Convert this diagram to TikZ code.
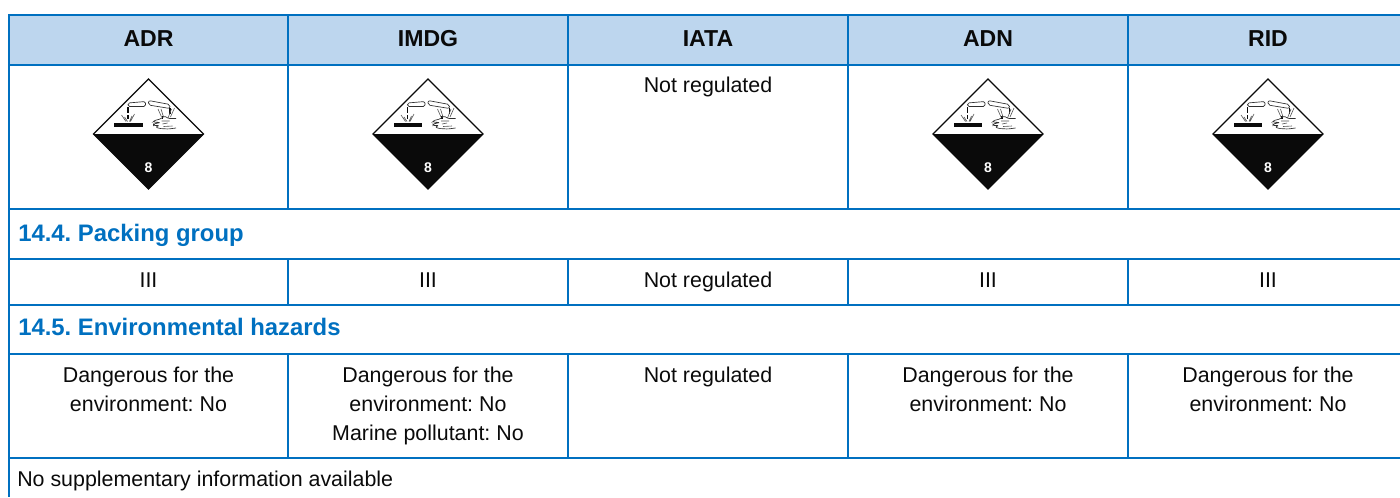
\documentclass[tikz,border=0pt]{standalone}
\usepackage{fontspec}
\setmainfont{Liberation Sans}
\definecolor{rule}{RGB}{0,112,192}
\definecolor{headfill}{RGB}{189,214,238}
\definecolor{ink}{RGB}{10,10,10}
\tikzset{
  grid/.style={draw=rule,line width=1.7pt,line cap=butt},
  headtxt/.style={anchor=base,font=\fontsize{17.3pt}{20pt}\selectfont\bfseries\frenchspacing,text=ink,inner sep=0pt},
  sectxt/.style={anchor=base west,font=\fontsize{17.9pt}{20pt}\selectfont\bfseries\frenchspacing,text=rule,inner sep=0pt},
  celltxt/.style={anchor=base,font=\fontsize{16.05pt}{20pt}\selectfont\frenchspacing,text=ink,inner sep=0pt},
  lefttxt/.style={anchor=base west,font=\fontsize{16.05pt}{20pt}\selectfont\frenchspacing,text=ink,inner sep=0pt},
  pg/.style={draw=ink!85,line width=0.5pt},
  pgthin/.style={draw=ink!70,line width=0.45pt},
}
\newcommand{\placard}[2]{%
\begin{scope}[shift={(#1,134)}]
  \fill[white] (0,-55)--(55,0)--(0,55)--(-55,0)--cycle;
  \fill[ink] (-55,0)--(55,0)--(0,55)--cycle;
  \draw[ink,line width=0.9pt,line join=miter] (0,-55)--(55,0)--(0,55)--(-55,0)--cycle;
  \node[font=\fontsize{10.5pt}{12pt}\selectfont\bfseries,text=white,inner sep=0pt] (#2) at (0,34) {8};
  % test tubes
  \draw[pg,rounded corners=1.2pt] (-20.5,-27.5)--(-20.5,-31)--(-3,-32.5)--(-3,-27.5)--cycle;
  \draw[pg,rounded corners=1.5pt] (0,-33.5)--(21.5,-29.5)--(21.5,-25.5)--(0,-29)--cycle;
  % drops
  \draw[ink,line width=0.9pt] (-20.5,-27)--(-20.5,-21) (-20.5,-19)--(-20.5,-15);
  \draw[ink,line width=0.9pt] (21.5,-26)--(21.5,-20) (14,-18)--(14,-15);
  % bar
  \fill[ink] (-34.5,-11.5)--(-6,-11.5)--(-6,-7)--(-34.5,-7)--cycle;
  % splashes left
  \draw[pgthin] (-27,-19)--(-22.5,-12.5) (-24,-17)--(-21,-12.5) (-14,-20)--(-18,-12.5) (-16.5,-18)--(-19,-12.5);
  % splashes right
  \draw[pgthin] (9.5,-25)--(13,-17) (12.5,-25)--(15,-17) (26,-26)--(22,-17) (23,-25)--(19.5,-16);
  % hand
  \draw[pg,rounded corners=1pt] (27.5,-15.5)--(20,-15.5)--(16,-18)--(12,-15)--(6,-13.5)--(4.5,-12)--(12,-11.5)--(5,-10)--(5,-8.5)--(11,-8.5)--(7,-7)--(11,-5.5)--(20,-5)--(27.5,-6);
  \draw[pgthin] (13,-13)--(21,-13) (14,-10)--(19,-11) (15,-7.5)--(24,-8);
\end{scope}}
\begin{document}
\begin{tikzpicture}[x=0.75pt,y=-0.75pt]
\useasboundingbox (0,0) rectangle (1400,497);
\fill[headfill] (9,15) rectangle (1400,65);
% horizontal rules
\foreach \yy in {15,65,209,259,305,354,458} \draw[grid] (8,\yy)--(1400,\yy);
% left edge
\draw[grid] (9,14)--(9,497);
% vertical rules
\foreach \xx in {288,568,848,1128} {
  \draw[grid] (\xx,15)--(\xx,209);
  \draw[grid] (\xx,259)--(\xx,305);
  \draw[grid] (\xx,354)--(\xx,458);
}
% header
\node[headtxt] (hadr) at (148.5,46) {ADR};
\node[headtxt] (himdg) at (428,46) {IMDG};
\node[headtxt] (hiata) at (708,46) {IATA};
\node[headtxt] (hadn) at (988,46) {ADN};
\node[headtxt] (hrid) at (1268,46) {RID};
% placards
\placard{148.5}{p1}
\placard{428}{p2}
\placard{988}{p3}
\placard{1268}{p4}
\node[celltxt] (r1c3) at (708,92) {Not regulated};
% sections
\node[sectxt] (s144) at (18,241) {14.4. Packing group};
\node[celltxt] (r2c1) at (148.5,287) {III};
\node[celltxt] (r2c2) at (428,287) {III};
\node[celltxt] (r2c3) at (708,287) {Not regulated};
\node[celltxt] (r2c4) at (988,287) {III};
\node[celltxt] (r2c5) at (1268,287) {III};
\node[sectxt] (s145) at (18,335) {14.5. Environmental hazards};
% env row
\node[celltxt] (e1a) at (148.5,382.5) {Dangerous for the};
\node[celltxt] (e1b) at (148.5,411.5) {environment: No};
\node[celltxt] (e2a) at (428,382.5) {Dangerous for the};
\node[celltxt] (e2b) at (428,411.5) {environment: No};
\node[celltxt] (e2c) at (428,440.5) {Marine pollutant: No};
\node[celltxt] (e3a) at (708,382.5) {Not regulated};
\node[celltxt] (e4a) at (988,382.5) {Dangerous for the};
\node[celltxt] (e4b) at (988,411.5) {environment: No};
\node[celltxt] (e5a) at (1268,382.5) {Dangerous for the};
\node[celltxt] (e5b) at (1268,411.5) {environment: No};
\node[lefttxt] (nosup) at (17,486.5) {No supplementary information available};
\end{tikzpicture}
\end{document}
